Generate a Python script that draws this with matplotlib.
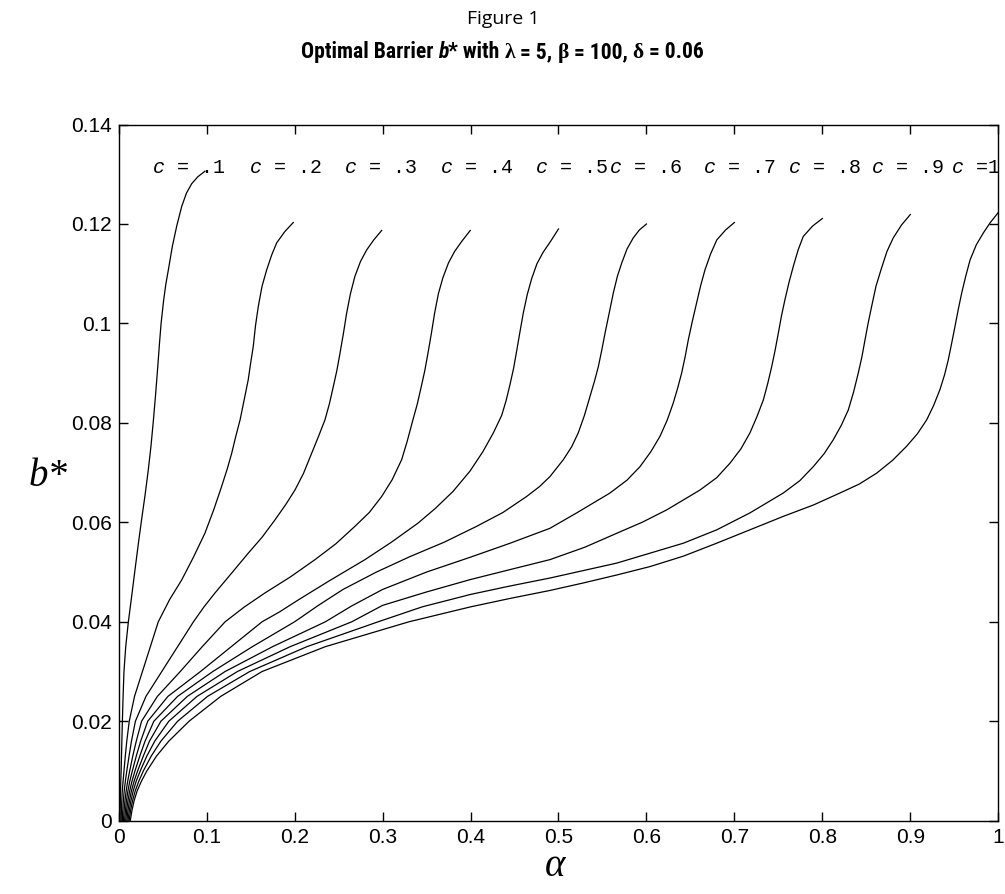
import matplotlib
matplotlib.use('Agg')
import matplotlib.pyplot as plt
from matplotlib import font_manager

# values (alpha, b*) for each c
alpha_c01 = [0.0015, 0.0017, 0.0019, 0.0021, 0.0024, 0.0028, 0.0032, 0.0036, 0.0042, 0.0050, 0.0060,
             0.0080, 0.011, 0.0148, 0.0185, 0.0222, 0.026, 0.030, 0.0337, 0.0368, 0.0395, 0.042,
             0.0443, 0.0463, 0.0482, 0.051, 0.0535, 0.0565, 0.061, 0.066, 0.0716, 0.077, 0.083,
             0.090, 0.098]
b_c01 = [0, .002, .004, .006, .008, .01, .013, .016, .02, .025, .03,
         .035, .04, .0452, .0504, .0555, .0605, .0655, .0706, .0755, .0806, .0858,
         .091, .0958, .1, .1045, .1078, .1108, .1155, .1196, .1235, .1262, .1281,
         .1295, .1306]

alpha_c02 = [0.0028, 0.0031, 0.0035, 0.0041, 0.0050, 0.006, 0.0075, 0.0092, 0.012, 0.018, 0.027,
             0.036, 0.045, 0.058, 0.0716, 0.085, 0.098, 0.108, 0.117, 0.1235, 0.1285, 0.133, 0.138,
             0.1425, 0.1473, 0.150, 0.153, 0.1555, 0.1587, 0.163, 0.1683, 0.174, 0.1796, 0.189, 0.1985]
b_c02 = [0, .002, .004, .006, .008, .01, .013, .016, .02, .025, .03,
         .035, .04, .0445, .0484, .053, .0578, .0625, .0672, .0708, .0739, .0772, .0806,
         .0845, .0887, .092, .0954, .0995, .1034, .1075, .1108, .1138, .1162, .1185, .1203]

alpha_c03 = [0.0041, 0.0046, 0.0053, 0.0063, 0.0076, 0.0092, 0.0118, 0.0145, 0.019, 0.031, 0.049,
             0.067, 0.085, 0.097, 0.1095, 0.128, 0.1473, 0.163, 0.1777, 0.19, 0.2004, 0.21, 0.2194,
             0.227, 0.2345, 0.2395, 0.244, 0.248, 0.2516, 0.2555, 0.2592, 0.2635, 0.2686, 0.275,
             0.282, 0.290, 0.299]
b_c03 = [0, .002, .004, .006, .008, .01, .013, .016, .02, .025, .03,
         .035, .04, .043, .0458, .0497, .0538, .057, .0605, .0636, .0665, .0698, .0739,
         .0772, .0806, .0838, .0873, .0905, .094, .098, .1021, .106, .1095, .1125,
         .1148, .1168, .1187]

alpha_c04 = [0.0054, 0.0061, 0.0071, 0.0085, 0.0103, 0.0125, 0.016, 0.020, 0.026, 0.044, 0.070,
             0.095, 0.121, 0.143, 0.1663, 0.195, 0.2232, 0.247, 0.2686, 0.285, 0.299, 0.311, 0.3217,
             0.328, 0.3345, 0.3395, 0.344, 0.348, 0.3516, 0.3555, 0.3592, 0.3635, 0.3686, 0.375,
             0.382, 0.390, 0.3997]
b_c04 = [0, .002, .004, .006, .008, .01, .013, .016, .02, .025, .03,
         .035, .04, .043, .0458, .049, .0525, .0557, .0592, .062, .0652, .0686, .0726,
         .0763, .0806, .0838, .0873, .0905, .094, .098, .1021, .106, .1092, .1122,
         .1145, .1165, .1187]

alpha_c05 = [0.0067, 0.0076, 0.0088, 0.0105, 0.0127, 0.0155, 0.020, 0.025, 0.033, 0.056, 0.093,
             0.128, 0.163, 0.183, 0.2042, 0.24, 0.28, 0.31, 0.34, 0.36, 0.38, 0.3994, 0.414,
             0.426, 0.4354, 0.4405, 0.445, 0.449, 0.4525, 0.4562, 0.46, 0.4645, 0.4695, 0.4755,
             0.4825, 0.491, 0.5]
b_c05 = [0, .002, .004, .006, .008, .01, .013, .016, .02, .025, .03,
         .035, .04, .042, .0444, .0483, .0525, .056, .0598, .0628, .0662, .0703, .0742,
         .078, .0815, .0845, .0878, .091, .0945, .0983, .1021, .1058, .109, .112,
         .1143, .1165, .119]

alpha_c06 = [0.0080, 0.0090, 0.0105, 0.0125, 0.0152, 0.0185, 0.024, 0.030, 0.040, 0.067, 0.107,
             0.152, 0.200, 0.227, 0.255, 0.293, 0.331, 0.37, 0.407, 0.437, 0.4638, 0.4785, 0.4903,
             0.5055, 0.515, 0.5225, 0.5295, 0.5358, 0.5408, 0.5453, 0.5493, 0.553, 0.5578, 0.5623,
             0.567, 0.572, 0.578, 0.585, 0.592, 0.600]
b_c06 = [0, .002, .004, .006, .008, .01, .013, .016, .02, .025, .03,
         .035, .04, .0433, .0465, .050, .0531, .056, .0592, .062, .0652, .0672, .0692,
         .0726, .0752, .078, .0815, .0853, .0883, .0913, .0947, .0981, .1022, .1061,
         .1095, .1122, .115, .1172, .1188, .1200]

alpha_c07 = [0.0093, 0.0105, 0.0122, 0.0145, 0.0176, 0.0215, 0.028, 0.035, 0.048, 0.078, 0.121,
             0.175, 0.235, 0.265, 0.30, 0.35, 0.40, 0.445, 0.4903, 0.5207, 0.5586, 0.578, 0.5927,
             0.605, 0.6154, 0.6235, 0.6305, 0.6355, 0.640, 0.644, 0.6476, 0.652, 0.657, 0.6615,
             0.6666, 0.673, 0.680, 0.690, 0.700]
b_c07 = [0, .002, .004, .006, .008, .01, .013, .016, .02, .025, .03,
         .035, .04, .0432, .0465, .050, .053, .0558, .0588, .0619, .0659, .0685, .0712,
         .0742, .0773, .0805, .084, .087, .090, .0933, .0967, .1003, .1041, .1075,
         .1108, .114, .1168, .1188, .1203]

alpha_c08 = [0.0106, 0.0120, 0.0139, 0.0165, 0.0200, 0.0245, 0.032, 0.041, 0.057, 0.089, 0.135,
             0.195, 0.265, 0.30, 0.35, 0.40, 0.445, 0.4903, 0.53, 0.5662, 0.595, 0.623, 0.6609,
             0.68, 0.695, 0.7075, 0.7177, 0.7255, 0.7329, 0.738, 0.7424, 0.7464, 0.750, 0.7535,
             0.7575, 0.762, 0.767, 0.7725, 0.7783, 0.789, 0.800]
b_c08 = [0, .002, .004, .006, .008, .01, .013, .016, .02, .025, .03,
         .035, .04, .0433, .046, .0485, .0505, .0525, .055, .0578, .060, .0625, .0665,
         .069, .0719, .0748, .078, .0812, .0846, .088, .0913, .0947, .0981, .1015,
         .1048, .1082, .1115, .1148, .1175, .1196, .1211]

alpha_c09 = [0.0119, 0.0135, 0.0157, 0.0188, 0.0230, 0.028, 0.037, 0.048, 0.067, 0.101, 0.149,
             0.214, 0.295, 0.345, 0.40, 0.445, 0.4903, 0.5662, 0.6419, 0.68, 0.7177, 0.7556, 0.7745,
             0.7897, 0.802, 0.8124, 0.8215, 0.8295, 0.8355, 0.8408, 0.845, 0.8485, 0.852, 0.856,
             0.861, 0.8674, 0.8735, 0.8806, 0.890, 0.900]
b_c09 = [0, .002, .004, .006, .008, .01, .013, .016, .02, .025, .03,
         .035, .04, .043, .0455, .0472, .0488, .0518, .0558, .0585, .0619, .0659, .0684,
         .0712, .0738, .0766, .0795, .0826, .0862, .090, .0933, .0967, .1, .1034,
         .1075, .1112, .1145, .1172, .1198, .1219]

alpha_c10 = [0.0132, 0.015, 0.0175, 0.021, 0.026, 0.032, 0.043, 0.057, 0.080, 0.116, 0.163,
             0.235, 0.330, 0.365, 0.40, 0.445, 0.4903, 0.528, 0.566, 0.604, 0.642, 0.6798, 0.7177,
             0.7556, 0.79, 0.820, 0.842, 0.8618, 0.880, 0.8958, 0.908, 0.9186, 0.9265, 0.9337,
             0.939, 0.9432, 0.947, 0.9508, 0.9545, 0.9584, 0.963, 0.968, 0.975, 0.983, 0.991, 1.0]
b_c10 = [0, .002, .004, .006, .008, .01, .013, .016, .02, .025, .03,
         .035, .04, .0415, .043, .0447, .0463, .0478, .0494, .0511, .0532, .0558, .0585,
         .0612, .0635, .0659, .0677, .0699, .0725, .0753, .0778, .0806, .0835, .0867,
         .0897, .0927, .096, .0994, .1028, .1061, .1095, .1128, .1158, .1182, .1203, .1223]

curves = [(alpha_c01, b_c01), (alpha_c02, b_c02), (alpha_c03, b_c03), (alpha_c04, b_c04),
          (alpha_c05, b_c05), (alpha_c06, b_c06), (alpha_c07, b_c07), (alpha_c08, b_c08),
          (alpha_c09, b_c09), (alpha_c10, b_c10)]

# curve labels along the top
label_text = ['$c$ = .1', '$c$ = .2', '$c$ = .3', '$c$ = .4', '$c$ = .5',
              '$c$ = .6', '$c$ = .7', '$c$ = .8', '$c$ = .9', '$c$ =1']
label_alpha = [0.038, 0.148, 0.256, 0.365, 0.473, 0.557, 0.664, 0.761, 0.855, 0.946]
label_b = 0.1303

xticks = [0, 0.1, 0.2, 0.3, 0.4, 0.5, 0.6, 0.7, 0.8, 0.9, 1]
xtick_labels = ['0', '0.1', '0.2', '0.3', '0.4', '0.5', '0.6', '0.7', '0.8', '0.9', '1']
yticks = [0, 0.02, 0.04, 0.06, 0.08, 0.1, 0.12, 0.14]
ytick_labels = ['0', '0.02', '0.04', '0.06', '0.08', '0.1', '0.12', '0.14']

plt.rcParams['mathtext.fontset'] = 'custom'
plt.rcParams['mathtext.it'] = 'Liberation Mono:italic'
plt.rcParams['mathtext.rm'] = 'Liberation Mono'

W, H = 1005, 894
fig = plt.figure(figsize=(W / 100, H / 100), dpi=100)
ax = fig.add_axes([0.1181, 0.0820, 0.8752, 0.7787])

for a, b in curves:
    ax.plot(a, b, color='black', lw=0.9)

for x, t in zip(label_alpha, label_text):
    ax.text(x, label_b, t, family='Liberation Mono', fontsize=14.4, va='baseline')

ax.set_xlim(0, 1)
ax.set_ylim(0, 0.14)
ax.set_xticks(xticks)
ax.set_xticklabels(xtick_labels)
ax.set_yticks(yticks)
ax.set_yticklabels(ytick_labels)
ax.tick_params(direction='in', length=6.5, width=1, top=True, right=True, pad=5,
               labelsize=15)
for lab in ax.get_xticklabels() + ax.get_yticklabels():
    lab.set_family('Liberation Sans')
for sp in ax.spines.values():
    sp.set_linewidth(1)

ax.text(-0.08, 0.495, 'b*', family='Liberation Serif', style='italic', fontsize=28,
        ha='center', va='center', transform=ax.transAxes)
fig.text(555 / W, 1 - 866 / H, 'α', family='Liberation Serif', style='italic',
         fontsize=28, ha='center', va='center')

fig.text(503 / W, 1 - 19 / H, 'Figure 1', family='Open Sans', fontsize=14,
         ha='center', va='center')

# second title line built from pieces (italic b, serif greek letters)
title_font = 'Roboto'
for cand in ['Liberation Sans Narrow', 'Roboto Condensed', 'DejaVu Sans Condensed']:
    try:
        font_manager.findfont(font_manager.FontProperties(family=cand, weight='bold'),
                              fallback_to_default=False)
        title_font = cand
        break
    except ValueError:
        pass

pieces = [('Optimal Barrier ', title_font, 'normal'), ('b', title_font, 'italic'),
          ('* with ', title_font, 'normal'), ('λ', 'Liberation Serif', 'normal'),
          (' = 5, ', title_font, 'normal'), ('β', 'Liberation Serif', 'normal'),
          (' = 100, ', title_font, 'normal'), ('δ', 'Liberation Serif', 'normal'),
          (' = 0.06', title_font, 'normal')]
renderer = fig.canvas.get_renderer()


def draw_title(size):
    objs = []
    x = 0.0
    for s, fam, st in pieces:
        t = fig.text(0, 1 - 58 / H, s, family=fam, style=st, fontweight='bold',
                     fontsize=size, ha='left', va='baseline')
        w = t.get_window_extent(renderer).width
        objs.append((t, x))
        x += w
    return objs, x


objs, total = draw_title(16)
scale = 405 / total
for t, _ in objs:
    t.remove()
objs, total = draw_title(16 * scale)
x0 = 502 - total / 2
for t, x in objs:
    t.set_x((x0 + x) / W)

fig.savefig('out.png', dpi=100)
